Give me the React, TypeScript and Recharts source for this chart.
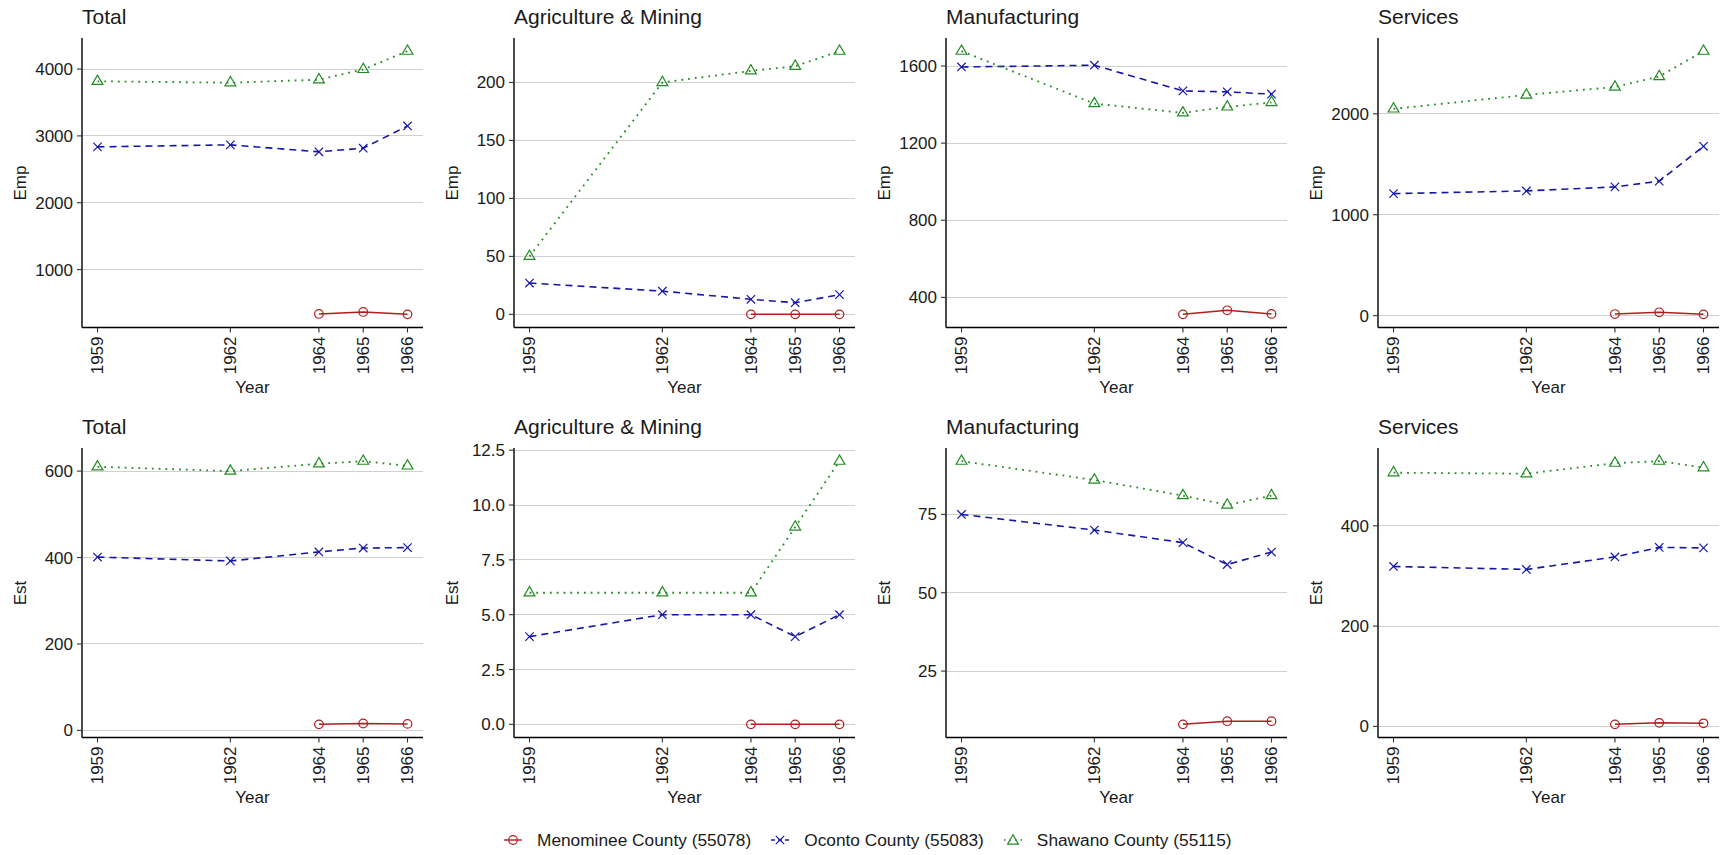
import { LineChart, Line, XAxis, YAxis, CartesianGrid } from 'recharts'

const years = [1959, 1962, 1964, 1965, 1966]

// Employment (Emp)
const totEmpMen = [null, null, 336, 366, 330]
const totEmpOco = [2836, 2866, 2762, 2816, 3149]
const totEmpSha = [3817, 3796, 3841, 3995, 4268]
const agEmpMen = [null, null, 0, 0, 0]
const agEmpOco = [27, 20, 13, 10, 17]
const agEmpSha = [50, 200, 210, 214, 227]
const mfEmpMen = [null, null, 312, 333, 314]
const mfEmpOco = [1595, 1604, 1471, 1466, 1454]
const mfEmpSha = [1677, 1405, 1357, 1388, 1411]
const svEmpMen = [null, null, 16, 33, 13]
const svEmpOco = [1209, 1236, 1276, 1332, 1678]
const svEmpSha = [2049, 2187, 2266, 2370, 2621]

// Establishments (Est)
const totEstMen = [null, null, 14, 16, 15]
const totEstOco = [401, 392, 413, 422, 423]
const totEstSha = [610, 600, 617, 623, 612]
const agEstMen = [null, null, 0, 0, 0]
const agEstOco = [4, 5, 5, 4, 5]
const agEstSha = [6, 6, 6, 9, 12]
const mfEstMen = [null, null, 8, 9, 9]
const mfEstOco = [75, 70, 66, 59, 63]
const mfEstSha = [92, 86, 81, 78, 81]
const svEstMen = [null, null, 4, 7, 6]
const svEstOco = [319, 313, 338, 357, 356]
const svEstSha = [506, 504, 525, 529, 516]

const seriesNames = ['Menominee County (55078)', 'Oconto County (55083)', 'Shawano County (55115)']

const FONT = '"Liberation Sans", Arial, Helvetica, sans-serif'
const RED = '#b01e1e'
const BLUE = '#1616a8'
const GREEN = '#228b22'
const TXT = '#1a1a1a'

const CHART_W = 425
const CHART_H = 410
const COL_STEP = 432
const ROW_STEP = 410
const Y_AXIS_W = 82
const TOP_M = 38

function circleDot(p: any) {
  if (p.cx == null || p.cy == null) return <g key={`c${p.index}`} />
  return <circle key={`c${p.index}`} cx={p.cx} cy={p.cy} r={4.3} fill="none" stroke={RED} strokeWidth={1.2} />
}

function crossDot(p: any) {
  if (p.cx == null || p.cy == null) return <g key={`x${p.index}`} />
  const s = 4.2
  return (
    <g key={`x${p.index}`} stroke={BLUE} strokeWidth={1.2}>
      <line x1={p.cx - s} y1={p.cy - s} x2={p.cx + s} y2={p.cy + s} />
      <line x1={p.cx - s} y1={p.cy + s} x2={p.cx + s} y2={p.cy - s} />
    </g>
  )
}

function triDot(p: any) {
  if (p.cx == null || p.cy == null) return <g key={`t${p.index}`} />
  const { cx, cy } = p
  return (
    <polygon
      key={`t${p.index}`}
      points={`${cx},${cy - 6.2} ${cx - 5.4},${cy + 3.1} ${cx + 5.4},${cy + 3.1}`}
      fill="none"
      stroke={GREEN}
      strokeWidth={1.2}
    />
  )
}

function YearTick({ x, y, payload }: any) {
  return (
    <g transform={`translate(${x},${y})`}>
      <text textAnchor="end" transform="rotate(-90)" dy="0.35em" fontSize={17} fill={TXT} fontFamily={FONT}>
        {payload.value}
      </text>
    </g>
  )
}

interface PanelProps {
  col: number
  row: number
  title: string
  yLabel: string
  men: (number | null)[]
  oco: number[]
  sha: number[]
  yTicks: number[]
  decimals?: number
}

function Panel({ col, row, title, yLabel, men, oco, sha, yTicks, decimals = 0 }: PanelProps) {
  const data = years.map((year, i) => ({ year, men: men[i], oco: oco[i], sha: sha[i] }))
  const vals = [...men, ...oco, ...sha].filter((v): v is number => v != null)
  const lo = Math.min(...vals)
  const hi = Math.max(...vals)
  const pad = (hi - lo) * 0.05
  const xPad = (years[years.length - 1] - years[0]) * 0.05
  const left = col * COL_STEP
  const top = row * ROW_STEP
  const plotH = CHART_H - TOP_M - 82.5

  return (
    <div style={{ position: 'absolute', left, top, width: CHART_W, height: CHART_H }}>
      <div
        style={{
          position: 'absolute',
          left: Y_AXIS_W,
          top: 6,
          fontSize: 21,
          lineHeight: '21px',
          color: TXT,
          whiteSpace: 'nowrap',
        }}
      >
        {title}
      </div>
      <div
        style={{
          position: 'absolute',
          left: 21 - 40,
          top: TOP_M + plotH / 2 - 9,
          width: 80,
          textAlign: 'center',
          fontSize: 17,
          lineHeight: '18px',
          color: TXT,
          transform: 'rotate(-90deg)',
        }}
      >
        {yLabel}
      </div>
      <div
        style={{
          position: 'absolute',
          left: Y_AXIS_W,
          width: CHART_W - 2 - Y_AXIS_W,
          top: 379,
          textAlign: 'center',
          fontSize: 17,
          lineHeight: '18px',
          color: TXT,
        }}
      >
        Year
      </div>
      <LineChart width={CHART_W} height={CHART_H} data={data} margin={{ top: TOP_M, right: 2, bottom: 0, left: 0 }}>
        <CartesianGrid vertical={false} syncWithTicks stroke="#d0d0d0" strokeWidth={1} shapeRendering="crispEdges" />
        <XAxis
          dataKey="year"
          type="number"
          domain={[years[0] - xPad, years[years.length - 1] + xPad]}
          ticks={years}
          interval={0}
          allowDataOverflow
          height={82.5}
          tick={<YearTick />}
          tickSize={5}
          tickMargin={4}
          axisLine={{ stroke: '#000', strokeWidth: 1.4 }}
          tickLine={{ stroke: '#333', strokeWidth: 1.1 }}
        />
        <YAxis
          type="number"
          domain={[lo - pad, hi + pad]}
          ticks={yTicks}
          interval={0}
          allowDataOverflow
          width={Y_AXIS_W}
          tickSize={5}
          tickMargin={4}
          tickFormatter={(v: number) => v.toFixed(decimals)}
          tick={{ fontSize: 17, fill: TXT, fontFamily: FONT }}
          axisLine={{ stroke: '#000', strokeWidth: 1.4 }}
          tickLine={{ stroke: '#333', strokeWidth: 1.1 }}
        />
        <Line
          dataKey="men"
          name={seriesNames[0]}
          stroke={RED}
          strokeWidth={1.5}
          dot={circleDot}
          activeDot={false}
          connectNulls={false}
          isAnimationActive={false}
        />
        <Line
          dataKey="oco"
          name={seriesNames[1]}
          stroke={BLUE}
          strokeWidth={1.6}
          strokeDasharray="7 5"
          dot={crossDot}
          activeDot={false}
          isAnimationActive={false}
        />
        <Line
          dataKey="sha"
          name={seriesNames[2]}
          stroke={GREEN}
          strokeWidth={1.8}
          strokeDasharray="1.8 5"
          dot={triDot}
          activeDot={false}
          isAnimationActive={false}
        />
      </LineChart>
    </div>
  )
}

function LegendKey({ kind }: { kind: number }) {
  const c = [RED, BLUE, GREEN][kind]
  const dash = [undefined, '4 3', '1.5 4'][kind]
  return (
    <svg width={22} height={20} style={{ display: 'block' }}>
      <line x1={2} y1={10} x2={20} y2={10} stroke={c} strokeWidth={1.4} strokeDasharray={dash} />
      {kind === 0 && circleDot({ cx: 11, cy: 10, index: 'l' })}
      {kind === 1 && crossDot({ cx: 11, cy: 10, index: 'l' })}
      {kind === 2 && triDot({ cx: 11, cy: 11, index: 'l' })}
    </svg>
  )
}

export default function App() {
  return (
    <div
      style={{
        position: 'absolute',
        left: 0,
        top: 0,
        width: 1721,
        height: 855,
        background: '#fff',
        fontFamily: FONT,
        overflow: 'hidden',
      }}
    >
      <Panel col={0} row={0} title="Total" yLabel="Emp" men={totEmpMen} oco={totEmpOco} sha={totEmpSha} yTicks={[1000, 2000, 3000, 4000]} />
      <Panel col={1} row={0} title="Agriculture & Mining" yLabel="Emp" men={agEmpMen} oco={agEmpOco} sha={agEmpSha} yTicks={[0, 50, 100, 150, 200]} />
      <Panel col={2} row={0} title="Manufacturing" yLabel="Emp" men={mfEmpMen} oco={mfEmpOco} sha={mfEmpSha} yTicks={[400, 800, 1200, 1600]} />
      <Panel col={3} row={0} title="Services" yLabel="Emp" men={svEmpMen} oco={svEmpOco} sha={svEmpSha} yTicks={[0, 1000, 2000]} />
      <Panel col={0} row={1} title="Total" yLabel="Est" men={totEstMen} oco={totEstOco} sha={totEstSha} yTicks={[0, 200, 400, 600]} />
      <Panel col={1} row={1} title="Agriculture & Mining" yLabel="Est" men={agEstMen} oco={agEstOco} sha={agEstSha} yTicks={[0, 2.5, 5, 7.5, 10, 12.5]} decimals={1} />
      <Panel col={2} row={1} title="Manufacturing" yLabel="Est" men={mfEstMen} oco={mfEstOco} sha={mfEstSha} yTicks={[25, 50, 75]} />
      <Panel col={3} row={1} title="Services" yLabel="Est" men={svEstMen} oco={svEstOco} sha={svEstSha} yTicks={[0, 200, 400]} />

      <div
        style={{
          position: 'absolute',
          top: 830,
          left: 502,
          display: 'flex',
          alignItems: 'center',
          fontSize: 17.3,
          lineHeight: '20px',
          color: TXT,
          whiteSpace: 'nowrap',
        }}
      >
        {seriesNames.map((name, i) => (
          <div key={name} style={{ display: 'flex', alignItems: 'center', marginRight: i < 2 ? 18 : 0 }}>
            <LegendKey kind={i} />
            <span style={{ marginLeft: 13 }}>{name}</span>
          </div>
        ))}
      </div>
    </div>
  )
}
